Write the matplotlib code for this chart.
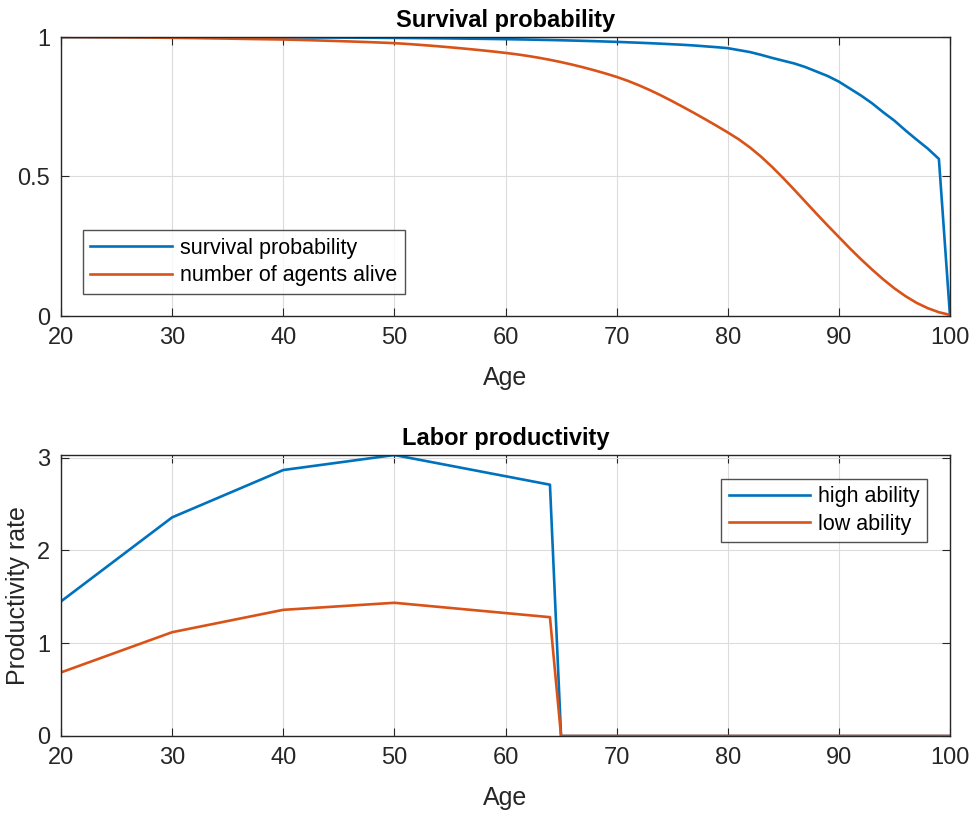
import numpy as np
import matplotlib
matplotlib.use("Agg")
import matplotlib.pyplot as plt

# ages for survival panel
ages = list(range(20, 101))

survival_prob = [
    1.0000, 0.9998, 0.9997, 0.9997, 0.9996, 0.9996, 0.9995, 0.9995, 0.9994, 0.9994,
    0.9993, 0.9993, 0.9992, 0.9992, 0.9991, 0.9990, 0.9990, 0.9989, 0.9988, 0.9987,
    0.9986, 0.9985, 0.9984, 0.9982, 0.9981, 0.9979, 0.9977, 0.9975, 0.9973, 0.9970,
    0.9967, 0.9964, 0.9961, 0.9957, 0.9953, 0.9949, 0.9944, 0.9939, 0.9934, 0.9928,
    0.9922, 0.9915, 0.9908, 0.9900, 0.9892, 0.9883, 0.9873, 0.9862, 0.9851, 0.9838,
    0.9825, 0.9810, 0.9795, 0.9778, 0.9760, 0.9740, 0.9720, 0.9695, 0.9665, 0.9635,
    0.9600, 0.9530, 0.9460, 0.9360, 0.9250, 0.9150, 0.9050, 0.8920, 0.8760, 0.8600,
    0.8400, 0.8150, 0.7900, 0.7620, 0.7300, 0.7000, 0.6650, 0.6320, 0.6000, 0.5630,
    0.0000,
]

agents_alive = [
    1.0000, 0.9998, 0.9996, 0.9994, 0.9992, 0.9990, 0.9987, 0.9984, 0.9980, 0.9975,
    0.9970, 0.9965, 0.9960, 0.9954, 0.9948, 0.9942, 0.9935, 0.9928, 0.9922, 0.9916,
    0.9910, 0.9900, 0.9890, 0.9878, 0.9866, 0.9853, 0.9840, 0.9826, 0.9812, 0.9796,
    0.9780, 0.9755, 0.9727, 0.9697, 0.9665, 0.9631, 0.9595, 0.9557, 0.9517, 0.9475,
    0.9430, 0.9380, 0.9322, 0.9256, 0.9182, 0.9100, 0.9010, 0.8912, 0.8806, 0.8692,
    0.8570, 0.8430, 0.8270, 0.8095, 0.7905, 0.7700, 0.7488, 0.7270, 0.7046, 0.6816,
    0.6580, 0.6330, 0.6040, 0.5710, 0.5340, 0.4940, 0.4520, 0.4090, 0.3660, 0.3240,
    0.2830, 0.2420, 0.2030, 0.1660, 0.1310, 0.0990, 0.0710, 0.0470, 0.0280, 0.0135,
    0.0040,
]

# productivity nodes
prod_ages = [20, 30, 40, 50, 64, 65, 100]
high_ability = [1.45, 2.355, 2.865, 3.027, 2.707, 0.0, 0.0]
low_ability = [0.685, 1.118, 1.359, 1.435, 1.28, 0.0, 0.0]

blue = "#0072BD"
orange = "#D95319"
axcol = "#262626"

plt.rcParams["font.family"] = ["Liberation Sans", "DejaVu Sans"]

fig = plt.figure(figsize=(9.73, 8.13), dpi=100)
W, H = 973, 813
ax1 = fig.add_axes([61 / W, 1 - 316 / H, 889 / W, 279 / H])
ax2 = fig.add_axes([61 / W, 1 - 736 / H, 889 / W, 281 / H])


def style(ax):
    ax.grid(True, color="#dcdcdc", linewidth=0.8)
    ax.set_axisbelow(True)
    for s in ax.spines.values():
        s.set_color(axcol)
        s.set_linewidth(1.0)
    ax.tick_params(direction="in", top=True, right=True, length=6,
                   labelsize=17, colors=axcol, pad=8)
    ax.set_xlim(20, 100)
    ax.set_xticks(range(20, 101, 10))


ax1.plot(ages, survival_prob, color=blue, lw=1.9, label="survival probability")
ax1.plot(ages, agents_alive, color=orange, lw=1.9, label="number of agents alive")
style(ax1)
ax1.set_ylim(0, 1)
ax1.set_yticks([0, 0.5, 1])
ax1.set_yticklabels(["0", "0.5", "1"])
ax1.set_xlabel("Age", fontsize=18, color=axcol, labelpad=12)
ax1.set_title("Survival probability", fontsize=17, fontweight="bold", pad=7)
leg1 = ax1.legend(loc="lower left", bbox_to_anchor=(0.0247, 0.079), fontsize=15.5,
                  frameon=True, fancybox=False, edgecolor=axcol, handlelength=3.8,
                  borderpad=0.35, labelspacing=0.3, handletextpad=0.35,
                  borderaxespad=0)
leg1.get_frame().set_linewidth(1.0)

ax2.plot(prod_ages, high_ability, color=blue, lw=1.9, label="high ability")
ax2.plot(prod_ages, low_ability, color=orange, lw=1.9, label="low ability")
style(ax2)
ax2.set_ylim(0, max(high_ability))
ax2.set_yticks([0, 1, 2, 3])
ax2.set_xlabel("Age", fontsize=18, color=axcol, labelpad=12)
ax2.set_ylabel("Productivity rate", fontsize=18, color=axcol, labelpad=5)
ax2.set_title("Labor productivity", fontsize=17, fontweight="bold", pad=7)
leg2 = ax2.legend(loc="upper right", bbox_to_anchor=(0.974, 0.915), fontsize=15.5,
                  frameon=True, fancybox=False, edgecolor=axcol, handlelength=3.8,
                  borderpad=0.35, labelspacing=0.3, handletextpad=0.35,
                  borderaxespad=0)
leg2.get_frame().set_linewidth(1.0)

fig.savefig("out.png", dpi=100, facecolor="white")
